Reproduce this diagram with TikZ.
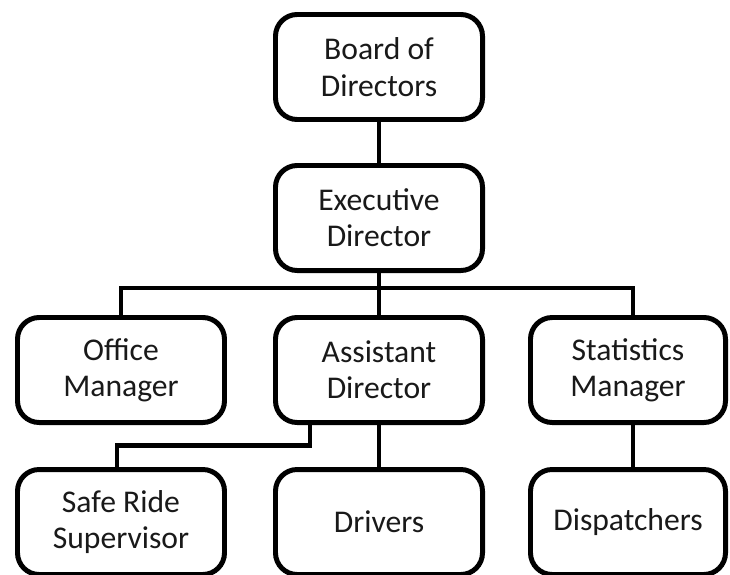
\documentclass[tikz,border=0pt]{standalone}
\usepackage{fontspec}
\setmainfont{Carlito}
\usetikzlibrary{positioning}

\tikzset{
  unit/.style={draw, line width=4.25pt, rounded corners=0.65cm,
    minimum width=6.21cm, minimum height=3.15cm, inner sep=0pt,
    align=center, text=black!90, font=\fontsize{27}{31}\selectfont},
  narrow/.style={minimum width=5.85cm},
  link/.style={line width=4.25pt}
}

\begin{document}
\begin{tikzpicture}[x=0.03cm,y=-0.03cm]
\useasboundingbox (0,0) rectangle (730,574);
% top of the chart
\node[unit] (board) at (379,67) {Board of\\Directors};
\node[unit] (exec) at (379,218) {Executive\\Director};
% middle row
\node[unit] (office) at (121,370) {Office\\Manager};
\node[unit] (asst) at (379,370) {Assistant\\Director};
\node[unit,narrow] (stats) at (628,370) {Statistics\\Manager};
% bottom row
\node[unit] (safe) at (121,522) {Safe Ride\\Supervisor};
\node[unit] (drivers) at (379,522) {Drivers};
\node[unit,narrow] (disp) at (628,522) {Dispatchers};
%
\coordinate (bus) at (379,288);
\coordinate (sline) at (633,288);
\coordinate (split) at (310,445);
\draw[link] (board) -- (exec);
\draw[link] (exec) -- (asst);
\draw[link] (office.north) |- (bus) -- (sline) -- (stats.north -| sline);
\draw[link] (asst.south -| split) -- (split) -| ([xshift=-0.12cm]safe.north);
\draw[link] (asst) -- (drivers);
\draw[link] (stats.south -| sline) -- (disp.north -| sline);
\end{tikzpicture}
\end{document}
